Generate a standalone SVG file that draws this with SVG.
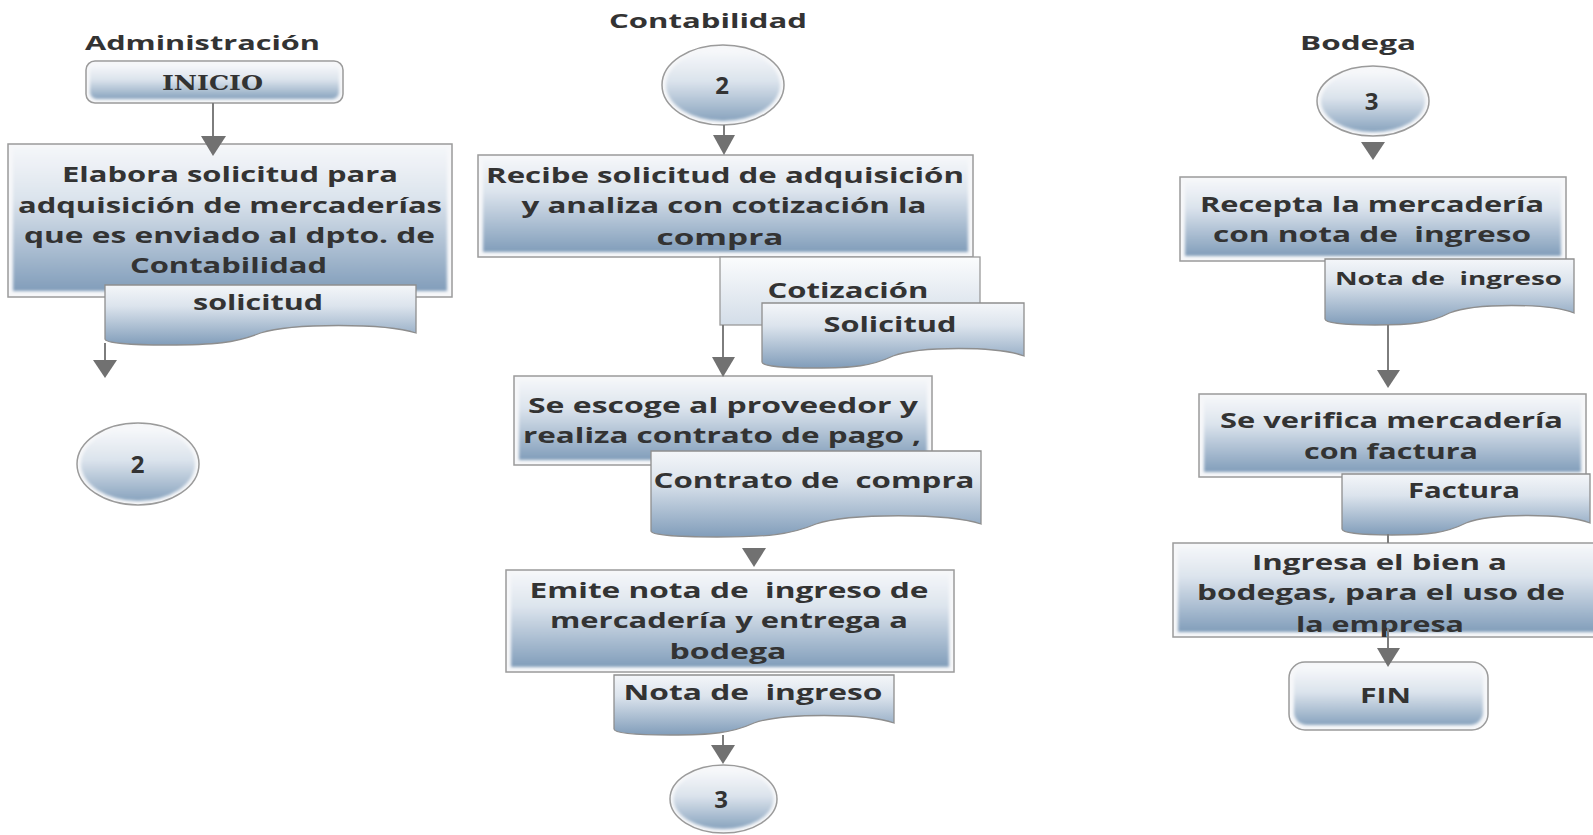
<svg xmlns="http://www.w3.org/2000/svg" width="1593" height="835" viewBox="0 0 1593 835">
  <defs>
    <linearGradient id="fillMain" x1="0" y1="0" x2="0" y2="1">
      <stop offset="0" stop-color="#f4f6f9"/>
      <stop offset="0.35" stop-color="#dce4ed"/>
      <stop offset="1" stop-color="#819dba"/>
    </linearGradient>
    <linearGradient id="fillRound" x1="0" y1="0" x2="0" y2="1">
      <stop offset="0" stop-color="#f8f9fb"/>
      <stop offset="0.45" stop-color="#dbe3ec"/>
      <stop offset="1" stop-color="#88a3be"/>
    </linearGradient>
    <linearGradient id="fillLight" x1="0" y1="0" x2="0" y2="1">
      <stop offset="0" stop-color="#fbfcfd"/>
      <stop offset="1" stop-color="#d3dde8"/>
    </linearGradient>
    <filter id="soft" x="-5%" y="-10%" width="110%" height="120%">
      <feGaussianBlur stdDeviation="1.6"/>
    </filter>
    <style>
      .frame { fill: #f6f7f9; stroke: #9b9b9b; stroke-width: 1.5; }
      .inner { fill: url(#fillMain); filter: url(#soft); }
      .innerRound { fill: url(#fillRound); filter: url(#soft); }
      .doc { fill: url(#fillMain); stroke: #8e8e8e; stroke-width: 1.3; }
      .docLight { fill: url(#fillLight); stroke: #9a9a9a; stroke-width: 1.3; }
      .t { font-family: "Open Sans", "DejaVu Sans", sans-serif; font-weight: 700; font-size: 21px; fill: #333; text-anchor: middle; white-space: pre; }
      .title { font-size: 20px; }
      .small { font-size: 17px; }
      .num { font-size: 24px; }
      .serif { font-family: "DejaVu Serif", "Liberation Serif", serif; font-size: 21px; }
      .line { stroke: #7d7d7d; stroke-width: 2; fill: none; }
      .head { fill: #717171; }
    </style>
  </defs>

  <!-- lane titles -->
  <g id="titles">
    <text class="t title" x="202.5" y="50" textLength="235" lengthAdjust="spacingAndGlyphs">Administración</text>
    <text class="t title" x="708" y="28" textLength="198" lengthAdjust="spacingAndGlyphs">Contabilidad</text>
    <text class="t title" x="1358" y="50" textLength="116" lengthAdjust="spacingAndGlyphs">Bodega</text>
  </g>

  <!-- Administración -->
  <g id="inicio">
    <rect class="frame" x="86" y="61" width="257" height="42" rx="9"/>
    <rect class="innerRound" x="90" y="64" width="249" height="35" rx="7"/>
    <text class="t serif" x="212.5" y="90" textLength="101" lengthAdjust="spacingAndGlyphs">INICIO</text>
  </g>
  <g id="elabora">
    <rect class="frame" x="8" y="144" width="444" height="153"/>
    <rect class="inner" x="13" y="148" width="434" height="143"/>
    <text class="t" x="230" y="182" textLength="336" lengthAdjust="spacingAndGlyphs">Elabora solicitud para</text>
    <text class="t" x="230" y="213" textLength="424" lengthAdjust="spacingAndGlyphs">adquisición de mercaderías</text>
    <text class="t" x="229.5" y="243" textLength="411" lengthAdjust="spacingAndGlyphs">que es enviado al dpto. de</text>
    <text class="t" x="228.5" y="273" textLength="197" lengthAdjust="spacingAndGlyphs">Contabilidad</text>
  </g>
  <g id="doc-solicitud-admin">
    <path class="doc" d="M105,285 H416 V333 C385,323 292,323 260.5,333 C235.6,343 214,345 167,345 C130,345 105,343 105,339 Z"/>
    <text class="t" x="258" y="310" textLength="130" lengthAdjust="spacingAndGlyphs">solicitud</text>
  </g>
  <g id="conector-2-admin">
    <ellipse class="frame" cx="138" cy="464" rx="61" ry="41"/>
    <ellipse class="innerRound" cx="138" cy="464" rx="57" ry="37"/>
    <text class="t num" x="137.5" y="473">2</text>
  </g>

  <!-- Contabilidad -->
  <g id="conector-2-cont">
    <ellipse class="frame" cx="723" cy="85" rx="61" ry="40"/>
    <ellipse class="innerRound" cx="723" cy="85" rx="57" ry="36"/>
    <text class="t num" x="722" y="94">2</text>
  </g>
  <g id="recibe">
    <rect class="frame" x="478" y="155" width="495" height="102"/>
    <rect class="inner" x="483" y="159" width="485" height="93"/>
    <text class="t" x="725" y="183" textLength="478" lengthAdjust="spacingAndGlyphs">Recibe solicitud de adquisición</text>
    <text class="t" x="724" y="213" textLength="405" lengthAdjust="spacingAndGlyphs">y analiza con cotización la</text>
    <text class="t" x="720" y="245" textLength="127" lengthAdjust="spacingAndGlyphs">compra</text>
  </g>
  <g id="doc-cotizacion">
    <rect class="docLight" x="720" y="257" width="260" height="68"/>
    <text class="t" x="848" y="298" textLength="161" lengthAdjust="spacingAndGlyphs">Cotización</text>
  </g>
  <g id="doc-solicitud-cont">
    <path class="doc" d="M762,303 H1024 V356 C998,346 919,346 893,356 C872,366 854,368 814,368 C783,368 762,366 762,362 Z"/>
    <text class="t" x="890" y="332" textLength="133" lengthAdjust="spacingAndGlyphs">Solicitud</text>
  </g>
  <g id="escoge">
    <rect class="frame" x="514" y="376" width="418" height="89"/>
    <rect class="inner" x="519" y="380" width="408" height="80"/>
    <text class="t" x="723" y="413" textLength="390" lengthAdjust="spacingAndGlyphs">Se escoge al proveedor y</text>
    <text class="t" x="722" y="443" textLength="398" lengthAdjust="spacingAndGlyphs">realiza contrato de pago ,</text>
  </g>
  <g id="doc-contrato">
    <path class="doc" d="M651,451 H981 V524 C948,513 849,513 816,524 C790,535 767,537 717,537 C677,537 651,535 651,531 Z"/>
    <text class="t" x="814" y="488" textLength="321" lengthAdjust="spacingAndGlyphs">Contrato de  compra</text>
  </g>
  <g id="emite">
    <rect class="frame" x="506" y="570" width="448" height="102"/>
    <rect class="inner" x="511" y="574" width="438" height="93"/>
    <text class="t" x="729" y="598" textLength="399" lengthAdjust="spacingAndGlyphs">Emite nota de  ingreso de</text>
    <text class="t" x="729" y="628" textLength="358" lengthAdjust="spacingAndGlyphs">mercadería y entrega a</text>
    <text class="t" x="728" y="659" textLength="117" lengthAdjust="spacingAndGlyphs">bodega</text>
  </g>
  <g id="doc-nota-cont">
    <path class="doc" d="M614,675 H894 V723 C866,713 782,713 754,723 C732,733 712,735 670,735 C636,735 614,733 614,729 Z"/>
    <text class="t" x="753" y="700" textLength="259" lengthAdjust="spacingAndGlyphs">Nota de  ingreso</text>
  </g>
  <g id="conector-3-cont">
    <ellipse class="frame" cx="723.5" cy="799" rx="53.5" ry="34"/>
    <ellipse class="innerRound" cx="723.5" cy="799" rx="50" ry="30"/>
    <text class="t num" x="721" y="808">3</text>
  </g>

  <!-- Bodega -->
  <g id="conector-3-bod">
    <ellipse class="frame" cx="1373" cy="101" rx="56" ry="35"/>
    <ellipse class="innerRound" cx="1373" cy="101" rx="52" ry="31"/>
    <text class="t num" x="1371.5" y="110">3</text>
  </g>
  <g id="recepta">
    <rect class="frame" x="1180" y="177" width="386" height="84"/>
    <rect class="inner" x="1185" y="181" width="376" height="75"/>
    <text class="t" x="1372" y="212" textLength="344" lengthAdjust="spacingAndGlyphs">Recepta la mercadería</text>
    <text class="t" x="1372" y="242" textLength="318" lengthAdjust="spacingAndGlyphs">con nota de  ingreso</text>
  </g>
  <g id="doc-nota-bod">
    <path class="doc" d="M1325,259 H1574 V313 C1549,303 1474,303 1449.5,313 C1430,323 1412,325 1375,325 C1345,325 1325,323 1325,319 Z"/>
    <text class="t small" x="1448.5" y="285" textLength="227" lengthAdjust="spacingAndGlyphs">Nota de  ingreso</text>
  </g>
  <g id="verifica">
    <rect class="frame" x="1199" y="394" width="387" height="83"/>
    <rect class="inner" x="1204" y="398" width="377" height="74"/>
    <text class="t" x="1391.5" y="428" textLength="343" lengthAdjust="spacingAndGlyphs">Se verifica mercadería</text>
    <text class="t" x="1391" y="459" textLength="174" lengthAdjust="spacingAndGlyphs">con factura</text>
  </g>
  <g id="doc-factura">
    <path class="doc" d="M1342,474 H1590 V523 C1565,513 1491,513 1466,523 C1446,533 1429,535 1392,535 C1362,535 1342,533 1342,529 Z"/>
    <text class="t" x="1464" y="498" textLength="112" lengthAdjust="spacingAndGlyphs">Factura</text>
  </g>
  <g id="ingresa">
    <rect class="frame" x="1173" y="543" width="425" height="94"/>
    <rect class="inner" x="1178" y="547" width="420" height="85"/>
    <text class="t" x="1379.5" y="570" textLength="255" lengthAdjust="spacingAndGlyphs">Ingresa el bien a</text>
    <text class="t" x="1381" y="600" textLength="368" lengthAdjust="spacingAndGlyphs">bodegas, para el uso de</text>
    <text class="t" x="1380" y="632" textLength="168" lengthAdjust="spacingAndGlyphs">la empresa</text>
  </g>
  <g id="fin">
    <rect class="frame" x="1289" y="662" width="199" height="68" rx="16"/>
    <rect class="innerRound" x="1294" y="666" width="189" height="59" rx="13"/>
    <text class="t" x="1385.5" y="703" textLength="51" lengthAdjust="spacingAndGlyphs">FIN</text>
  </g>

  <!-- flow connectors -->
  <g id="connectors">
    <line class="line" x1="213" y1="103" x2="213" y2="137"/>
    <polygon class="head" points="201,136 226,136 213,156"/>

    <line class="line" x1="105" y1="343" x2="105" y2="361"/>
    <polygon class="head" points="93,360 117,360 105,378"/>

    <line class="line" x1="724" y1="125" x2="724" y2="136"/>
    <polygon class="head" points="713,135 735,135 724,155"/>

    <line class="line" x1="723" y1="325" x2="723" y2="358"/>
    <polygon class="head" points="712,357 735,357 723,377"/>

    <polygon class="head" points="742,548 766,548 754,567"/>

    <line class="line" x1="723" y1="735" x2="723" y2="746"/>
    <polygon class="head" points="711,745 735,745 723,764"/>

    <polygon class="head" points="1361,142 1385,142 1373,160"/>

    <line class="line" x1="1388" y1="325" x2="1388" y2="371"/>
    <polygon class="head" points="1377,370 1400,370 1388,388"/>

    <line class="line" x1="1388" y1="534" x2="1388" y2="543"/>

    <line class="line" x1="1388" y1="628" x2="1388" y2="649"/>
    <polygon class="head" points="1377,648 1400,648 1388,667"/>
  </g>
</svg>
